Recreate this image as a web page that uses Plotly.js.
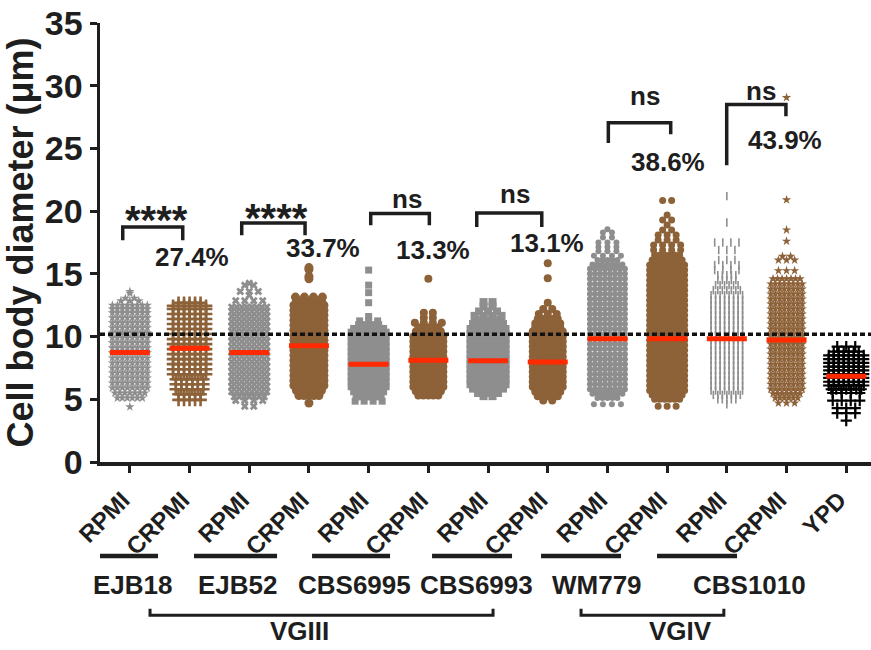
<!DOCTYPE html>
<html>
<head>
<meta charset="utf-8">
<script src="https://cdn.plot.ly/plotly-3.0.1.min.js"></script>
<style>html,body{margin:0;padding:0;background:#fff;}#chart{width:871px;height:650px;}</style>
</head>
<body>
<div id="chart"></div>
<script>
// ---------------- DATA ----------------
const categories = ['RPMI','CRPMI','RPMI','CRPMI','RPMI','CRPMI','RPMI','CRPMI','RPMI','CRPMI','RPMI','CRPMI','YPD'];
const strains = ['EJB18','EJB52','CBS6995','CBS6993','WM779','CBS1010'];
const clades = ['VGIII','VGIV'];
const medians = [8.74, 9.06, 8.74, 9.26, 7.8, 8.12, 8.08, 7.98, 9.82, 9.82, 9.82, 9.72, 6.84];
const thresholdLine = 10.18;
const significance = ['****','****','ns','ns','ns','ns'];
const percentAbove = ['27.4%','33.7%','13.3%','13.1%','38.6%','43.9%'];

// each group: diameter levels (µm) and number of cells drawn at that level
const g1_levels = [4.4,5.1,5.5,5.9,6.3,6.7,7.1,7.5,7.9,8.3,8.7,9.1,9.5,9.9,10.3,10.7,11.1,11.5,11.9,12.2,12.5,12.85,13.05,13.45,13.6];
const g1_counts = [1,6,7,8,8,8,8,8,8,8,8,8,8,8,8,8,8,8,8,8,8,3,2,1,1];
const g2_levels = [4.95,5.4,5.8,6.2,6.6,7.0,7.4,7.8,8.2,8.6,9.0,9.4,9.8,10.2,10.6,11.0,11.4,11.8,12.2,12.45,12.7];
const g2_counts = [5,5,6,6,6,7,7,7,7,7,7,7,7,7,7,7,7,7,7,7,5];
const g3_levels = [4.45,4.9,5.2,5.6,6.0,6.4,6.8,7.2,7.6,8.0,8.4,8.8,9.2,9.6,10.0,10.4,10.8,11.2,11.6,12.0,12.35,12.85,13.3,13.6,14.1,14.25];
const g3_counts = [2,4,7,8,8,8,8,8,8,8,8,8,8,8,8,8,8,8,8,8,8,4,1,3,2,1];
const g4_levels = [4.7,5.3,5.7,6.1,6.5,6.9,7.3,7.7,8.1,8.5,8.9,9.3,9.7,10.1,10.5,10.9,11.3,11.7,12.1,12.5,12.85,13.15,14.6,14.8,15.35,15.5];
const g4_counts = [1,5,6,7,7,7,7,7,7,7,7,7,7,7,7,7,7,7,7,7,6,4,1,1,1,1];
const g5_levels = [4.85,5.2,5.6,6.0,6.4,6.8,7.2,7.6,8.0,8.4,8.8,9.2,9.6,10.0,10.35,10.65,10.95,11.25,11.6,12.7,13.5,14.1,15.3];
const g5_counts = [4,6,7,8,8,8,8,8,8,8,8,8,8,8,8,7,5,3,1,1,1,1,1];
const g6_levels = [5.3,5.65,6.0,6.4,6.8,7.2,7.6,8.0,8.4,8.8,9.2,9.6,10.0,10.4,10.75,11.1,11.5,11.9,14.6];
const g6_counts = [5,6,7,7,7,7,7,7,7,7,7,7,7,6,5,4,2,2,1];
const g7_levels = [5.25,5.5,5.85,6.2,6.6,7.0,7.4,7.8,8.2,8.6,9.0,9.4,9.8,10.2,10.6,11.0,11.3,11.65,12.0,12.4,12.75];
const g7_counts = [2,5,7,8,8,8,8,8,8,8,8,8,8,8,8,7,6,4,3,2,2];
const g8_levels = [4.9,5.25,5.6,6.0,6.4,6.8,7.2,7.6,8.0,8.4,8.8,9.2,9.6,10.0,10.4,10.75,11.05,11.4,11.8,12.2,12.7,14.65,15.85];
const g8_counts = [2,5,6,7,7,7,7,7,7,7,7,7,7,7,7,6,6,5,3,2,1,1,1];
const g9_levels = [4.6,5.1,5.45,5.8,6.2,6.6,7.0,7.4,7.8,8.2,8.6,9.0,9.4,9.8,10.2,10.6,11.0,11.4,11.8,12.2,12.6,13.0,13.4,13.8,14.2,14.6,15.0,15.4,15.75,16.1,16.45,16.8,17.15,17.5,17.9,18.3,18.55];
const g9_counts = [4,5,7,8,8,8,8,8,8,8,8,8,8,8,8,8,8,8,8,8,8,8,8,8,8,8,8,8,7,5,4,3,3,3,2,2,1];
const g10_levels = [4.45,5.0,5.35,5.7,6.1,6.5,6.9,7.3,7.7,8.1,8.5,8.9,9.3,9.7,10.1,10.5,10.9,11.3,11.7,12.1,12.5,12.9,13.3,13.7,14.1,14.5,14.9,15.3,15.7,16.1,16.5,16.9,17.3,17.7,18.1,18.5,18.9,19.3,19.7,20.85];
const g10_counts = [3,6,7,8,8,8,8,8,8,8,8,8,8,8,8,8,8,8,8,8,8,8,8,8,8,8,8,8,8,7,6,4,4,3,3,2,1,2,1,2];
const g11_levels = [4.6,5.0,5.35,5.7,6.1,6.5,6.9,7.3,7.7,8.1,8.5,8.9,9.3,9.7,10.1,10.5,10.9,11.3,11.7,12.1,12.5,12.9,13.3,13.7,14.1,14.5,14.9,15.3,15.7,16.1,16.9,17.5,19.1,21.2];
const g11_counts = [1,5,7,8,8,8,8,8,8,8,8,8,8,8,8,8,8,8,8,8,8,8,8,7,6,5,5,4,4,3,3,4,1,1];
const g12_levels = [4.7,5.1,5.45,5.8,6.2,6.6,7.0,7.4,7.8,8.2,8.6,9.0,9.4,9.8,10.2,10.6,11.0,11.4,11.8,12.2,12.6,13.0,13.4,13.8,14.2,14.6,15.25,16.1,16.4,17.6,18.5,20.9,29.05];
const g12_counts = [3,6,7,8,8,8,8,8,8,8,8,8,8,8,8,8,8,8,8,8,8,8,8,8,8,7,3,3,2,1,1,1,1];
const g13_levels = [3.3,3.9,4.3,4.9,5.5,5.8,6.1,6.4,6.7,7.0,7.3,7.6,7.9,8.2,8.5,8.8,9.2];
const g13_counts = [1,3,3,4,4,7,8,8,8,8,8,8,8,8,8,6,3];

const groupLevels = [g1_levels,g2_levels,g3_levels,g4_levels,g5_levels,g6_levels,g7_levels,g8_levels,g9_levels,g10_levels,g11_levels,g12_levels,g13_levels];
const groupCounts = [g1_counts,g2_counts,g3_counts,g4_counts,g5_counts,g6_counts,g7_counts,g8_counts,g9_counts,g10_counts,g11_counts,g12_counts,g13_counts];

// ---------------- STYLE / LAYOUT ----------------
const GRAY = '#8e8e8e', BROWN = '#8d6239', RED = '#ff2a00', INK = '#1e1e1e';
const FONT = 'Liberation Sans, Arial, Helvetica, sans-serif';
const styles = [
  {symbol:'star', size:7, color:GRAY, dx:5},
  {symbol:'cross-thin-open', size:9, color:BROWN, dx:5.5, lw:2.6},
  {symbol:'x', size:7, color:GRAY, dx:5},
  {symbol:'circle', size:9, color:BROWN, dx:5},
  {symbol:'square', size:7, color:GRAY, dx:5},
  {symbol:'circle', size:8, color:BROWN, dx:5},
  {symbol:'square', size:8, color:GRAY, dx:5},
  {symbol:'circle', size:8, color:BROWN, dx:5},
  {symbol:'circle', size:6, color:GRAY, dx:5},
  {symbol:'circle', size:7, color:BROWN, dx:5},
  {symbol:'line-ns-open', size:6, color:GRAY, dx:4.5, lw:1.6},
  {symbol:'star', size:7, color:BROWN, dx:4.5},
  {symbol:'cross-thin-open', size:8, color:'#000000', dx:5, lw:2.2}
];

const W = 871, H = 650, M = {l:100, r:0, t:23, b:188};
const XR = [-0.5, 12.415], YR = [0, 35];
const pxPerX = (W - M.l - M.r) / (XR[1] - XR[0]);

const traces = [];
groupLevels.forEach((levels, i) => {
  const counts = groupCounts[i], st = styles[i];
  const xs = [], ys = [];
  levels.forEach((lv, k) => {
    const n = counts[k];
    const step = n <= 4 ? st.dx * 1.8 : st.dx;   // sparse rows spread a little wider
    for (let j = 0; j < n; j++) { xs.push(i + (j - (n - 1) / 2) * step / pxPerX); ys.push(lv); }
  });
  const marker = {symbol: st.symbol, size: st.size, color: st.color};
  marker.line = st.lw ? {color: st.color, width: st.lw} : {width: 0};
  traces.push({type:'scatter', mode:'markers', x:xs, y:ys, marker, hoverinfo:'skip', showlegend:false, cliponaxis:false});
});
// medians
const mx = [], my = [];
medians.forEach((m, i) => { mx.push(i - 0.335, i + 0.335, null); my.push(m, m, null); });
traces.push({type:'scatter', mode:'lines', x:mx, y:my, line:{color:RED, width:5}, hoverinfo:'skip', showlegend:false});

// paired comparison brackets (left/right x in category units, y in µm)
const brackets = [
  {xl:-0.119, xr:0.886, top:18.74, bl:17.68, br:17.68, sx:0.45, sy:19.3, px:1.037, py:16.32},
  {xl:1.874, xr:2.935, top:19.06, bl:18.08, br:18.08, sx:2.46, sy:19.42, px:3.228, py:17.05},
  {xl:4.035, xr:5.017, top:19.81, bl:18.87, br:18.87, sx:4.638, sy:20.95, px:5.07, py:16.88},
  {xl:5.811, xr:6.9, top:19.86, bl:18.74, br:18.74, sx:6.452, sy:21.35, px:6.983, py:17.44},
  {xl:8.015, xr:9.06, top:27.04, bl:25.44, br:26.14, sx:8.63, sy:29.2, px:9.02, py:23.93},
  {xl:9.998, xr:10.99, top:28.51, bl:23.66, br:27.57, sx:10.58, sy:29.6, px:10.98, py:25.66}
];
const shapes = [
  {type:'line', xref:'paper', yref:'y', x0:0, x1:1, y0:thresholdLine, y1:thresholdLine,
   line:{color:'#111', width:3.5, dash:'5px,3px'}}
];
const annotations = [];
const txt = (text, x, y, size, xref, yref) => ({text, x, y, xref:xref||'x', yref:yref||'y', showarrow:false,
  xanchor:'center', yanchor:'middle', font:{family:FONT, size, weight:'bold', color:INK}});
brackets.forEach((b, k) => {
  shapes.push({type:'path', xref:'x', yref:'y',
    path:`M ${b.xl},${b.bl} L ${b.xl},${b.top} L ${b.xr},${b.top} L ${b.xr},${b.br}`,
    line:{color:INK, width:3.5}});
  const isStar = significance[k].indexOf('*') >= 0;
  annotations.push(txt(significance[k], b.sx, b.sy, isStar ? 40 : 26));
  annotations.push(txt(percentAbove[k], b.px, b.py, 26));
});

// strain underline bars and labels (below the axis, paper y)
const strainBars = [[-0.868,0.472],[1.075,2.466],[3.052,4.359],[5.062,6.402],[6.888,8.228],[8.831,10.171]];
const strainLabelX = [0.059, 1.812, 3.755, 5.807, 7.826, 10.388];
strainBars.forEach((b, k) => {
  shapes.push({type:'line', xref:'x', yref:'paper', x0:b[0], x1:b[1], y0:-0.214, y1:-0.214, line:{color:INK, width:4.5}});
  annotations.push(txt(strains[k], strainLabelX[k], -0.280, 26, 'x', 'paper'));
});
const cladeBrackets = [[0.338, 6.084], [7.558, 9.95]];
const cladeLabelX = [2.834, 9.216];
cladeBrackets.forEach((b, k) => {
  shapes.push({type:'path', xref:'x', yref:'paper',
    path:`M ${b[0]},-0.334 L ${b[0]},-0.349 L ${b[1]},-0.349 L ${b[1]},-0.334`, line:{color:INK, width:3}});
  annotations.push(txt(clades[k], cladeLabelX[k], -0.384, 26, 'x', 'paper'));
});

const layout = {
  width: W, height: H, margin: M, paper_bgcolor:'#fff', plot_bgcolor:'#fff',
  showlegend:false,
  font:{family:FONT, color:INK},
  xaxis:{range:XR, tickmode:'array', tickvals:categories.map((c,i)=>i), ticktext:categories,
    tickangle:-45, tickfont:{family:FONT, size:24, weight:'bold', color:INK},
    ticklabelshift:-7, ticklabelstandoff:4,
    showline:true, linecolor:INK, linewidth:3.5, ticks:'outside', ticklen:7, tickwidth:3, tickcolor:INK,
    showgrid:false, zeroline:false, fixedrange:true, automargin:false},
  yaxis:{range:YR, tickmode:'array', tickvals:[0,5,10,15,20,25,30,35],
    tickfont:{family:FONT, size:34, weight:'bold', color:INK},
    showline:true, linecolor:INK, linewidth:3.5, ticks:'outside', ticklen:7, tickwidth:3, tickcolor:INK,
    showgrid:false, zeroline:false, fixedrange:true, automargin:false,
    title:{text:'Cell body diameter (μm)', font:{family:FONT, size:36, weight:'bold', color:INK}, standoff:6}},
  shapes, annotations
};
Plotly.newPlot('chart', traces, layout, {staticPlot:true, displayModeBar:false});
</script>
</body>
</html>
